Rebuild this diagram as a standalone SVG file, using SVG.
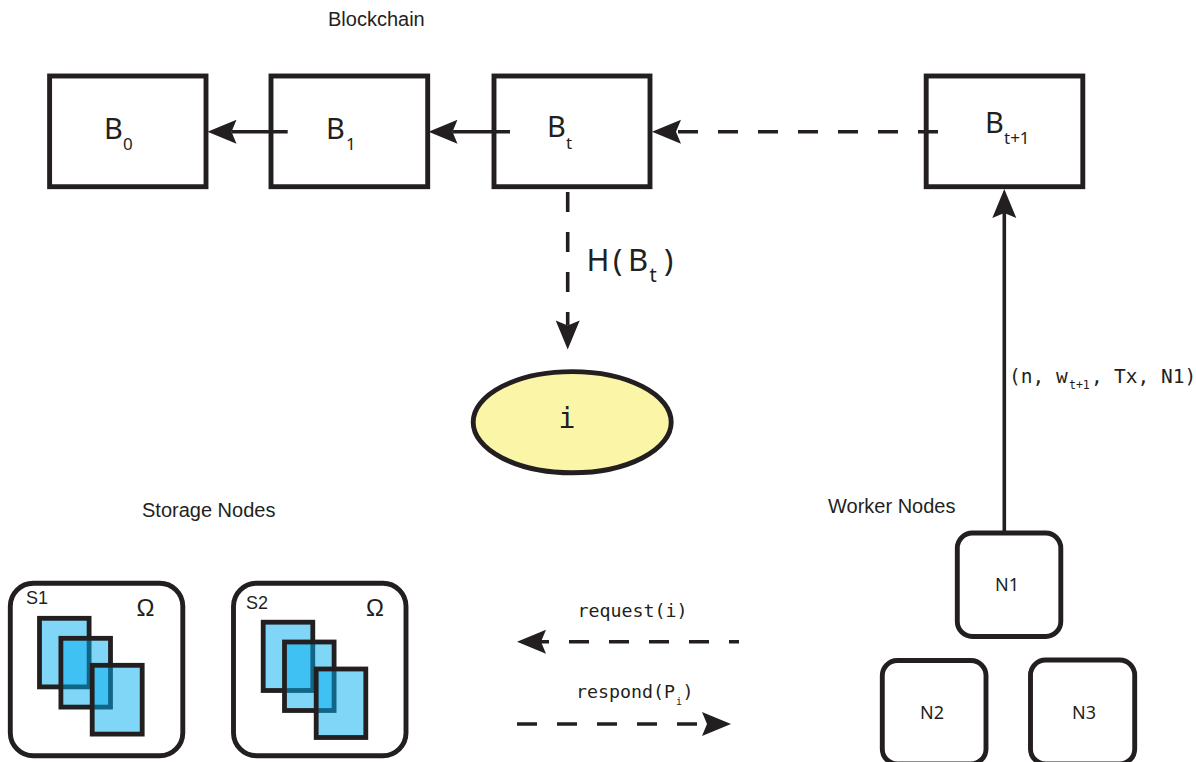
<svg xmlns="http://www.w3.org/2000/svg" width="1196" height="762" viewBox="0 0 1196 762">
  <style>
    text { fill: #231f20; }
    .lab { font-family: "Liberation Sans", Arial, sans-serif; font-size: 20px; }
    .sans { font-family: "Noto Sans", "Open Sans", sans-serif; font-size: 29px; }
    .sub { font-size: 17px; }
    .node { font-family: "Noto Sans", "Open Sans", sans-serif; font-size: 18px; text-anchor: middle; }
    .mono { font-family: "DejaVu Sans Mono", monospace; font-size: 18.3px; }
    .box { fill: #fff; stroke: #231f20; stroke-width: 4.9; }
    .page { fill: #00aeef; fill-opacity: .5; stroke: none; }
    .pageb { fill: none; stroke: #231f20; stroke-width: 4.8; }
    .conn { fill: none; stroke: #231f20; stroke-width: 3.6; marker-end: url(#head); }
    .dash { stroke-dasharray: 20 20; }
  </style>
  <defs>
    <marker id="head" markerUnits="userSpaceOnUse" markerWidth="32" markerHeight="26" refX="5" refY="12.5" orient="auto" overflow="visible">
      <path d="M0 0.5 L29 12.5 L0 24.5 L5 12.5 Z" fill="#231f20"/>
    </marker>
  </defs>
  <rect width="1196" height="762" fill="#fff"/>

  <text class="lab" x="328" y="26">Blockchain</text>
  <text class="lab" x="142" y="517">Storage Nodes</text>
  <text class="lab" x="828" y="513">Worker Nodes</text>

  <g id="B0">
    <rect class="box" x="49.6" y="76" width="156.4" height="110.7"/>
    <text class="sans" x="104" y="138.5">B<tspan class="sub" x="123" y="150">0</tspan></text>
  </g>
  <g id="B1">
    <rect class="box" x="271" y="76" width="156.7" height="110.7"/>
    <text class="sans" x="326" y="138.5">B<tspan class="sub" x="346" y="150">1</tspan></text>
  </g>
  <g id="Bt">
    <rect class="box" x="494" y="76" width="156" height="110.7"/>
    <text class="sans" x="547" y="136.7">B<tspan class="sub" x="566" y="149">t</tspan></text>
  </g>
  <g id="Bt1">
    <rect class="box" x="926.2" y="76" width="156.6" height="110.7"/>
    <text class="sans" x="985" y="133">B<tspan class="sub" x="1004" y="144">t+1</tspan></text>
  </g>
  <g id="hash-index">
    <ellipse cx="572.2" cy="422.2" rx="99" ry="50.6" fill="#fbf5a8" stroke="#231f20" stroke-width="4.9"/>
    <text class="mono" x="567" y="428" text-anchor="middle" style="font-size:28px">i</text>
  </g>
  <text id="hash-label" class="sans" style="font-size:31px"><tspan x="586.5" y="271">H</tspan><tspan x="613" y="271">(</tspan><tspan x="628" y="271">B</tspan><tspan class="sub" style="font-size:20px" x="649.5" y="282">t</tspan><tspan x="664" y="271">)</tspan></text>

  <g id="S1">
    <rect class="box" x="10.3" y="583.2" width="172.5" height="172.5" rx="23"/>
    <text class="lab" x="26" y="604" style="font-size:18px">S1</text>
    <text class="lab" x="136.5" y="616" style="font-size:24px">Ω</text>
    <rect class="page" x="39.5" y="618.3" width="49.6" height="68.6"/>
    <rect class="pageb" x="39.5" y="618.3" width="49.6" height="68.6"/>
    <rect class="page" x="60.9" y="638.3" width="49.6" height="68.8"/>
    <rect class="pageb" x="60.9" y="638.3" width="49.6" height="68.8"/>
    <rect class="page" x="92.2" y="665.3" width="50" height="68.8"/>
    <rect class="pageb" x="92.2" y="665.3" width="50" height="68.8"/>
  </g>
  <g id="S2">
    <rect class="box" x="233.5" y="583.2" width="172.5" height="172.5" rx="23"/>
    <text class="lab" x="246" y="609" style="font-size:18px">S2</text>
    <text class="lab" x="366" y="616" style="font-size:24px">Ω</text>
    <rect class="page" x="263.2" y="622.2" width="49.6" height="68.3"/>
    <rect class="pageb" x="263.2" y="622.2" width="49.6" height="68.3"/>
    <rect class="page" x="284.5" y="642" width="49.6" height="68.5"/>
    <rect class="pageb" x="284.5" y="642" width="49.6" height="68.5"/>
    <rect class="page" x="316.2" y="669" width="49.6" height="68.5"/>
    <rect class="pageb" x="316.2" y="669" width="49.6" height="68.5"/>
  </g>

  <g id="N1">
    <rect class="box" x="957.3" y="533" width="103.5" height="103.5" rx="15"/>
    <text class="node" x="1007" y="591">N1</text>
  </g>
  <g id="N2">
    <rect class="box" x="882.3" y="660.5" width="103.7" height="103.5" rx="15"/>
    <text class="node" x="932" y="719">N2</text>
  </g>
  <g id="N3">
    <rect class="box" x="1030.5" y="660" width="104.2" height="104" rx="15"/>
    <text class="node" x="1084" y="719">N3</text>
  </g>

  <g id="connectors">
    <path class="conn" d="M287.7 131.7 H231.5"/>
    <path class="conn" d="M510 131.7 H452.5"/>
    <path class="conn dash" d="M938 131.7 H676"/>
    <path class="conn dash" d="M567.7 192 V325.5"/>
    <path class="conn" d="M1004.3 531 V213"/>
    <path class="conn dash" style="stroke-dashoffset:10" d="M739 641.7 H541"/>
    <path class="conn dash" d="M517 724 H707"/>
  </g>

  <text class="mono" x="1009" y="383" style="font-size:19.5px" xml:space="preserve">(n, w<tspan x="1069" y="388.5" style="font-size:11.5px">t+1</tspan><tspan x="1091" y="383">,</tspan><tspan x="1114" y="383">Tx, N1)</tspan></text>
  <text class="mono" x="577.5" y="616.7">request(i)</text>
  <text class="mono" x="576" y="698">respond(P<tspan x="676" y="705" style="font-size:10px">i</tspan><tspan x="682.5" y="698">)</tspan></text>
</svg>
